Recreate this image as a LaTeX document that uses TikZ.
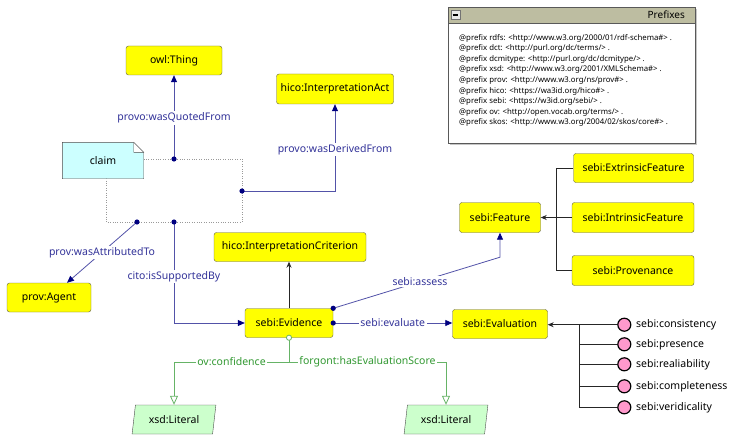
\documentclass[tikz,border=0pt]{standalone}
\usepackage{fontspec}
\setmainfont{Noto Sans}
\usetikzlibrary{arrows.meta,shapes.geometric,backgrounds,shadows}
\definecolor{clsfill}{HTML}{FFFF00}
\definecolor{clsline}{HTML}{5E5E48}
\definecolor{propblue}{HTML}{333399}
\definecolor{propline}{HTML}{5252A8}
\definecolor{dotblue}{HTML}{000080}
\definecolor{datagreen}{HTML}{339933}
\definecolor{dataline}{HTML}{66B366}
\definecolor{litfill}{HTML}{CCFFCC}
\definecolor{notefill}{HTML}{CCFFFF}
\definecolor{indfill}{HTML}{FF99CC}
\definecolor{hdrfill}{HTML}{BDBDA1}
\newcommand{\lblfont}{\fontsize{10.5}{12}\selectfont}
\begin{document}
\begin{tikzpicture}[x=1pt,y=-1pt,
    cls/.style={draw=clsline,fill=clsfill,rounded corners=2.5pt,minimum height=29pt,inner sep=0pt,font=\lblfont},
    lit/.style={trapezium,trapezium left angle=75,trapezium right angle=105,trapezium stretches=true,
        draw=black!70,fill=litfill,minimum width=84pt,minimum height=29pt,inner sep=0pt,font=\lblfont},
    indiv/.style={circle,draw=black,line width=1.2pt,fill=indfill,minimum size=13pt,inner sep=0pt},
    indlbl/.style={anchor=west,inner sep=0pt,font=\lblfont},
    objprop/.style={draw=propline,line width=0.8pt},
    objarrow/.style={objprop,-{Triangle[length=7pt,width=6pt,color=dotblue]}},
    proplbl/.style={text=propblue,fill=white,inner sep=1.5pt,font=\lblfont},
    dataprop/.style={draw=dataline,line width=0.8pt},
    datalbl/.style={text=datagreen,fill=white,inner sep=1.5pt,font=\lblfont},
    subcls/.style={draw=black!85,line width=0.7pt,-{Stealth[length=6pt,width=5pt]}},
    tree/.style={draw=black!85,line width=0.7pt},
    pdot/.style={fill=dotblue}]
\useasboundingbox (0,0) rectangle (735,441);

\node[draw=black!65,fill=white,minimum width=247pt,minimum height=136pt,anchor=north west,
    drop shadow={shadow xshift=2pt,shadow yshift=-2pt,opacity=0.45}] (pfx) at (448,7) {};
\node[fill=hdrfill,minimum width=246.2pt,minimum height=15pt,anchor=north west,inner sep=0pt] (pfxhdr) at ([shift={(0.4pt,-0.4pt)}]pfx.north west) {};
\draw[black!65] (pfxhdr.south west) -- (pfxhdr.south east);
\node[draw=black!55,fill=black!8,minimum size=9pt,inner sep=0pt] (pfxmin) at ([xshift=7pt]pfxhdr.west) {};
\draw[line width=1.3pt] ([xshift=2pt]pfxmin.west) -- ([xshift=-2pt]pfxmin.east);
\node[anchor=east,inner sep=0pt,font=\bfseries\fontsize{10}{12}\selectfont] (pfxtitle) at ([xshift=-10pt]pfxhdr.east) {Prefixes};
\node[anchor=north west,align=left,inner sep=0pt,font=\fontsize{7.8}{10.6}\selectfont] (pfxtext) at (459,34) {%
@prefix rdfs: <http://www.w3.org/2000/01/rdf-schema\#> .\\
@prefix dct: <http://purl.org/dc/terms/> .\\
@prefix dcmitype: <http://purl.org/dc/dcmitype/> .\\
@prefix xsd: <http://www.w3.org/2001/XMLSchema\#> .\\
@prefix prov: <http://www.w3.org/ns/prov\#> .\\
@prefix hico: <https://wa3id.org/hico\#> .\\
@prefix sebi: <https://w3id.org/sebi/> .\\
@prefix ov: <http://open.vocab.org/terms/> .\\
@prefix skos: <http://www.w3.org/2004/02/skos/core\#> .};

\node[cls,minimum width=96pt] (owl) at (174,60.5) {owl:Thing};
\node[cls,minimum width=117pt,minimum height=30pt] (hicoact) at (335,89) {hico:InterpretationAct};
\node[minimum width=81pt,minimum height=36pt,inner sep=0pt,font=\lblfont] (claim) at (103,160.5) {claim};
\node[cls,minimum width=84pt] (agent) at (49,297.5) {prov:Agent};
\node[cls,minimum width=152pt] (crit) at (290,247) {hico:InterpretationCriterion};
\node[cls,minimum width=88pt] (evid) at (289,323) {sebi:Evidence};
\node[cls,minimum width=81pt,minimum height=30pt] (feat) at (500,217.5) {sebi:Feature};
\node[cls,minimum width=120pt] (extr) at (633.5,168) {sebi:ExtrinsicFeature};
\node[cls,minimum width=122pt,minimum height=30pt] (intr) at (633,217.5) {sebi:IntrinsicFeature};
\node[cls,minimum width=122pt,minimum height=30pt] (prov) at (633,270.5) {sebi:Provenance};
\node[cls,minimum width=95pt] (evalu) at (500,324) {sebi:Evaluation};
\node[lit] (lit1) at (174,419.5) {xsd:Literal};
\node[lit] (lit2) at (446,419.5) {xsd:Literal};

\foreach \i/\yy/\t in {1/324.7/consistency,2/344.3/presence,3/364.3/realiability,4/386.3/completeness,5/407.3/veridicality} {
    \node[indiv] (ind\i) at (624.3,\yy) {};
    \node[indlbl] (indt\i) at ([xshift=4.5pt]ind\i.east) {sebi:\t};
}

\coordinate (qdot) at (174,159);
\coordinate (ddot) at (242,191);
\coordinate (adot) at (137,222);
\coordinate (sdot) at (174,222);
\coordinate (gsplit) at (289,362);

\begin{scope}[on background layer]
    \draw[black!40,dotted] (106,159) rectangle (242,222);
    \draw[black!70,fill=notefill] (claim.south west) -- (claim.south east) -- ([yshift=-10pt]claim.north east)
        -- ([xshift=-10pt]claim.north east) -- (claim.north west) -- cycle;
    \draw[black!70,fill=white] ([xshift=-10pt]claim.north east) -- ([xshift=-10pt,yshift=-10pt]claim.north east)
        -- ([yshift=-10pt]claim.north east) -- cycle;
\end{scope}

\draw[objarrow] (qdot) -- node[proplbl,pos=0.49] {provo:wasQuotedFrom} (owl.south);
\draw[objarrow] (ddot) -| node[proplbl,pos=0.74] {provo:wasDerivedFrom} (hicoact.south);
\draw[objarrow] (adot) -- node[proplbl] {prov:wasAttributedTo} ([xshift=18pt]agent.north);
\draw[objarrow] (sdot) |- node[proplbl,pos=0.27] {cito:isSupportedBy} (evid.west);
\draw[objarrow] (evid.north east) -- node[proplbl,pos=0.52] {sebi:assess} ([yshift=-24.5pt]feat.south) -- (feat.south);
\draw[objarrow] (evid.east) -- node[proplbl] {sebi:evaluate} (evid.east -| evalu.west);
\foreach \p in {qdot,ddot,adot,sdot,evid.north east,evid.east}
    \fill[pdot] (\p) circle (2.6);

\draw[subcls] (evid.north) -- (evid.north |- crit.south);

\draw[dataprop] (evid.south) -- (gsplit);
\draw[dataprop,-{Triangle[open,length=9pt,width=8pt,fill=white]}] (gsplit) -| node[datalbl,pos=0.25] {ov:confidence} (lit1.north);
\draw[dataprop,-{Triangle[open,length=9pt,width=8pt,fill=white]}] (gsplit) -| node[datalbl,pos=0.25] {forgont:hasEvaluationScore} (lit2.north);
\draw[dataline,line width=0.8pt,fill=white] (evid.south) circle (2.6);

\draw[tree] (extr.west) -- ++(-17,0) |- (prov.west);
\draw[subcls] (intr.west) -- (feat.east);

\draw[subcls] (ind1.west) -- (ind1.west -| evalu.east);
\draw[tree] (579.3,324.7) |- (ind5.west);
\foreach \i in {2,3,4}
    \draw[tree] (579.3,0 |- ind\i.west) -- (ind\i.west);
\end{tikzpicture}
\end{document}
